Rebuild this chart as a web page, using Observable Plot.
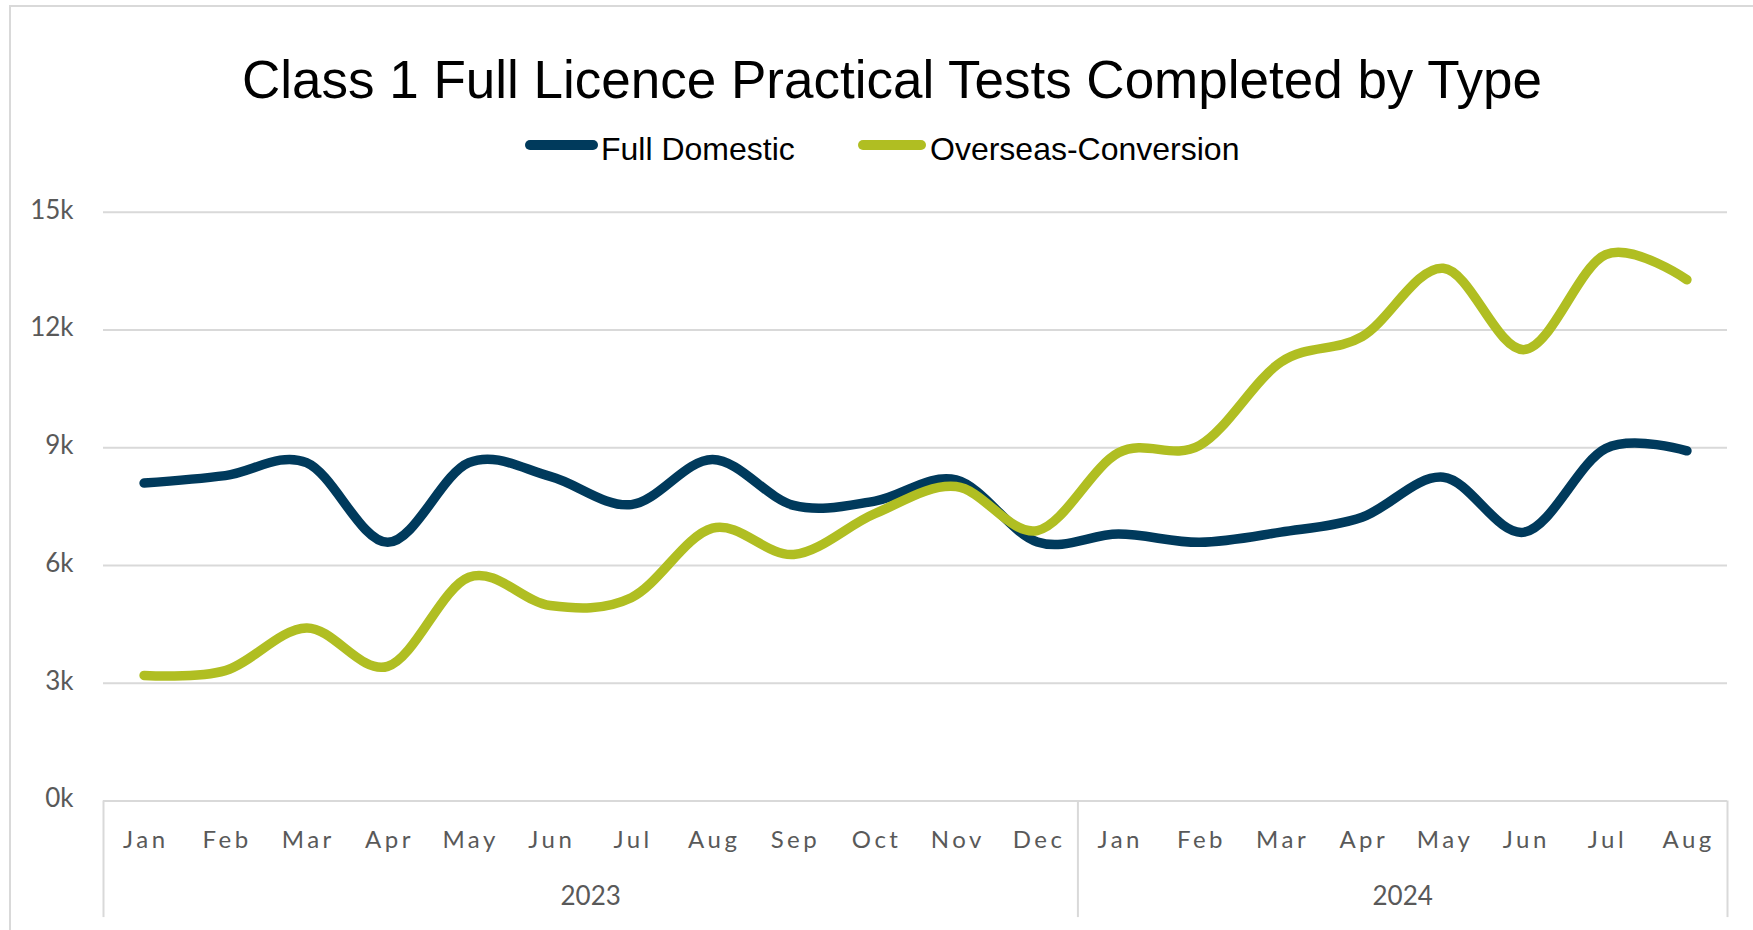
<!DOCTYPE html>
<html>
<head>
<meta charset="utf-8">
<script src="https://cdn.jsdelivr.net/npm/d3@7"></script>
<script src="https://cdn.jsdelivr.net/npm/@observablehq/plot@0.6"></script>
<style>
  html, body { margin: 0; padding: 0; background: #fff; }
  #wrap { position: relative; width: 1753px; height: 930px; overflow: hidden; background: #fff; }
  #frame { position: absolute; left: 9px; top: 5px; width: 1800px; height: 1000px; border-left: 2px solid #d9d9d9; border-top: 2px solid #d9d9d9; }
  #header { position: relative; height: 170px; }
  #title { position: absolute; left: 892px; top: 53px; transform: translateX(-50%); white-space: nowrap;
           font-family: "Liberation Sans", Arial, sans-serif; font-size: 53px; line-height: 53px; color: #000; }
  .sw { position: absolute; height: 10px; border-radius: 5px; top: 140px; }
  .lt { position: absolute; top: 133px; white-space: nowrap; font-family: "Liberation Sans", Arial, sans-serif;
        font-size: 32px; line-height: 32px; color: #000; }
  #chart svg { display: block; overflow: visible; }
</style>
</head>
<body>
<div id="wrap">
  <div id="frame"></div>
  <div id="header">
    <div id="title"></div>
    <div id="legend"></div>
  </div>
  <div id="chart"></div>
</div>
<script>
const titleText = "Class 1 Full Licence Practical Tests Completed by Type";
const seriesNames = ["Full Domestic", "Overseas-Conversion"];
const seriesColors = ["#003A5C", "#B0BE22"];
const monthLabels = ["Jan","Feb","Mar","Apr","May","Jun","Jul","Aug","Sep","Oct","Nov","Dec",
                     "Jan","Feb","Mar","Apr","May","Jun","Jul","Aug"];
const yearLabels = ["2023", "2024"];
const yearMonthCounts = [12, 8];
const fullDomestic = [8100, 8290, 8620, 6590, 8620, 8270, 7550, 8700, 7530, 7640, 8180, 6600,
                      6800, 6590, 6850, 7230, 8250, 6850, 8980, 8920];
const overseasConversion = [3200, 3320, 4410, 3430, 5700, 4980, 5180, 6950, 6280, 7320, 8010, 6890,
                            8870, 9060, 11180, 11830, 13570, 11500, 13920, 13280];
const yTicks = [0, 3000, 6000, 9000, 12000, 15000];

// Header (title + legend)
document.getElementById("title").textContent = titleText;
const legend = document.getElementById("legend");
const legendLayout = [{sw: 525, w: 73, t: 601}, {sw: 858, w: 68, t: 930}];
seriesNames.forEach((name, k) => {
  const s = document.createElement("div");
  s.className = "sw";
  s.style.left = legendLayout[k].sw + "px";
  s.style.width = legendLayout[k].w + "px";
  s.style.background = seriesColors[k];
  legend.appendChild(s);
  const t = document.createElement("div");
  t.className = "lt";
  t.style.left = legendLayout[k].t + "px";
  t.textContent = name;
  legend.appendChild(t);
});

// Data table
const idx = d3.range(monthLabels.length);
const rows = [];
idx.forEach(i => rows.push({i, value: fullDomestic[i], series: seriesNames[0]}));
idx.forEach(i => rows.push({i, value: overseasConversion[i], series: seriesNames[1]}));

// Year groups
let start = 0;
const years = yearLabels.map((y, k) => {
  const g = {label: y, from: start - 0.5, to: start + yearMonthCounts[k] - 0.5, mid: start + (yearMonthCounts[k] - 1) / 2};
  start += yearMonthCounts[k];
  return g;
});
const dividers = [years[0].from, ...years.map(g => g.to)];

const gray = "#595959";
const lineGray = "#d9d9d9";
const ls = 3.5;

const plot = Plot.plot({
  width: 1753,
  height: 760,
  marginTop: 41.7,
  marginBottom: 129.5,
  marginLeft: 103,
  marginRight: 26,
  style: {background: "transparent", overflow: "visible"},
  x: {domain: [-0.5, monthLabels.length - 0.5], axis: null},
  y: {domain: [0, 15000], axis: null},
  color: {domain: seriesNames, range: seriesColors},
  marks: [
    Plot.gridY(yTicks.filter(v => v > 0), {stroke: lineGray, strokeOpacity: 1, strokeWidth: 2}),
    Plot.ruleY([0], {stroke: lineGray, strokeWidth: 2}),
    Plot.ruleX(dividers, {y1: 0, y2: -2970, stroke: lineGray, strokeWidth: 2}),
    Plot.axisY(yTicks, {
      label: null,
      tickSize: 0, tickPadding: 30, dy: -2,
      tickFormat: d => (d / 1000) + "k",
      fontSize: 26, fontFamily: "Lato", fill: gray
    }),
    Plot.text(idx, {
      x: i => i, text: i => monthLabels[i], frameAnchor: "bottom", dy: 39, dx: ls / 2,
      lineAnchor: "middle", fontSize: 24, fontFamily: "Lato", fill: gray, className: "month"
    }),
    Plot.text(years, {
      x: "mid", text: "label", frameAnchor: "bottom", dy: 96,
      lineAnchor: "middle", fontSize: 26, fontFamily: "Lato", fill: gray
    }),
    Plot.line(rows, {
      x: "i", y: "value", stroke: "series", z: "series",
      curve: "cardinal", tension: 0,
      strokeWidth: 9.5, strokeLinecap: "round", strokeLinejoin: "round"
    })
  ]
});
plot.querySelectorAll(".month text, g.month text").forEach(t => t.style.letterSpacing = ls + "px");
document.getElementById("chart").appendChild(plot);
</script>
</body>
</html>
